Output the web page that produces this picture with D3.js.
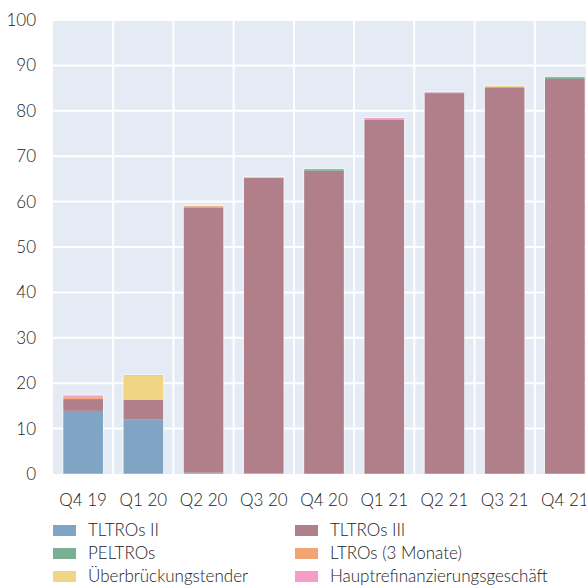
<!DOCTYPE html>
<html>
<head>
<meta charset="utf-8">
<script src="https://cdn.jsdelivr.net/npm/d3@7"></script>
<style>
  body { margin: 0; background: #fff; }
  text { font-family: Lato, "Open Sans", sans-serif; font-weight: 300; fill: #222; }
</style>
</head>
<body>
<script>
  // quarters and stacked series (share)
  var quarters = ["Q4 19", "Q1 20", "Q2 20", "Q3 20", "Q4 20", "Q1 21", "Q2 21", "Q3 21", "Q4 21"];
  var tltro2   = [13.9, 12.0, 0.3, 0.2, 0.0, 0.0, 0.0, 0.0, 0.0];
  var tltro3   = [2.6, 4.3, 58.3, 65.0, 66.8, 78.0, 83.7, 85.1, 87.0];
  var peltro   = [0.0, 0.0, 0.0, 0.0, 0.35, 0.1, 0.3, 0.1, 0.4];
  var ltro     = [0.3, 0.0, 0.4, 0.1, 0.0, 0.0, 0.0, 0.1, 0.0];
  var bridge   = [0.0, 5.4, 0.0, 0.1, 0.0, 0.0, 0.0, 0.2, 0.0];
  var mro      = [0.5, 0.1, 0.0, 0.0, 0.0, 0.3, 0.1, 0.0, 0.1];
  var yTicks   = [0, 10, 20, 30, 40, 50, 60, 70, 80, 90, 100];

  var series = [
    { key: "tltro2", name: "TLTROs II", color: "#80a5c4", values: tltro2 },
    { key: "tltro3", name: "TLTROs III", color: "#b07f89", values: tltro3 },
    { key: "peltro", name: "PELTROs", color: "#79b093", values: peltro },
    { key: "ltro", name: "LTROs (3 Monate)", color: "#f2a574", values: ltro },
    { key: "bridge", name: "Überbrückungstender", color: "#efd584", values: bridge },
    { key: "mro", name: "Hauptrefinanzierungsgeschäft", color: "#f59cc7", values: mro }
  ];

  var w = 586, h = 585;
  var margin = { top: 20, left: 53, bottom: 111 };
  var plotW = 542; // runs past the right edge, like the original crop

  var rows = quarters.map(function (q, i) {
    var r = { q: q };
    series.forEach(function (s) { r[s.key] = s.values[i]; });
    return r;
  });

  var stack = d3.stack().keys(series.map(function (s) { return s.key; }));
  var stacked = stack(rows);

  var svg = d3.select("body").append("svg")
    .attr("width", w)
    .attr("height", h);

  var x = d3.scaleBand()
    .domain(quarters)
    .range([margin.left, margin.left + plotW])
    .paddingInner(0.34)
    .paddingOuter(0.17);

  var y = d3.scaleLinear()
    .domain([0, 100])
    .range([h - margin.bottom, margin.top]);

  // background
  svg.append("rect")
    .attr("x", margin.left)
    .attr("y", margin.top)
    .attr("width", plotW)
    .attr("height", y(0) - margin.top)
    .attr("fill", "#e4ebf4");

  // horizontal grid
  svg.append("g").selectAll("line")
    .data(yTicks.slice(1))
    .enter().append("line")
    .attr("x1", margin.left).attr("x2", margin.left + plotW)
    .attr("y1", function (d) { return y(d); })
    .attr("y2", function (d) { return y(d); })
    .attr("stroke", "#fff").attr("stroke-width", 2);

  // vertical grid between quarters
  var step = x.step();
  svg.append("g").selectAll("line")
    .data(quarters.slice(1))
    .enter().append("line")
    .attr("x1", function (d) { return x(d) - (step - x.bandwidth()) / 2; })
    .attr("x2", function (d) { return x(d) - (step - x.bandwidth()) / 2; })
    .attr("y1", margin.top).attr("y2", y(0))
    .attr("stroke", "#fff").attr("stroke-width", 2);

  // bars
  var colorOf = {};
  series.forEach(function (s) { colorOf[s.key] = s.color; });

  svg.append("g").selectAll("g")
    .data(stacked)
    .enter().append("g")
    .attr("fill", function (d) { return colorOf[d.key]; })
    .selectAll("rect")
    .data(function (d) { return d; })
    .enter().append("rect")
    .attr("x", function (d) { return x(d.data.q); })
    .attr("width", x.bandwidth())
    .attr("y", function (d) { return y(d[1]); })
    .attr("height", function (d) { return Math.max(0, y(d[0]) - y(d[1])); });

  // faint light outline round each column
  svg.append("g").selectAll("rect")
    .data(rows)
    .enter().append("rect")
    .attr("x", function (d) { return x(d.q) - 0.5; })
    .attr("width", x.bandwidth() + 1)
    .attr("y", function (d) { return y(d3.sum(series, function (s) { return d[s.key]; })) - 0.5; })
    .attr("height", function (d) { return y(0) - y(d3.sum(series, function (s) { return d[s.key]; })) + 0.5; })
    .attr("fill", "none")
    .attr("stroke", "rgba(255,255,255,0.45)")
    .attr("stroke-width", 1);

  // y axis
  var yAxis = d3.axisLeft(y).tickValues(yTicks).tickSize(0).tickPadding(0);
  svg.append("g")
    .attr("transform", "translate(36,0)")
    .call(yAxis)
    .call(function (g) {
      g.select(".domain").remove();
      g.selectAll("text").attr("font-size", 17).attr("font-family", null);
    });

  // x axis
  var xAxis = d3.axisBottom(x).tickSize(0).tickPadding(0);
  svg.append("g")
    .attr("transform", "translate(0," + (y(0) + 20) + ")")
    .call(xAxis)
    .call(function (g) {
      g.select(".domain").remove();
      g.selectAll("text").attr("font-size", 17).attr("font-family", null);
    });
  svg.selectAll(".tick text").attr("fill", null);

  // legend
  var legend = svg.append("g").selectAll("g")
    .data(series)
    .enter().append("g")
    .attr("transform", function (d, i) {
      var col = i % 2, row = Math.floor(i / 2);
      return "translate(" + (col === 0 ? 53 : 295) + "," + (525 + row * 23) + ")";
    });

  legend.append("rect")
    .attr("width", 23).attr("height", 11)
    .attr("fill", function (d) { return d.color; });

  legend.append("text")
    .attr("x", 35).attr("y", 5.5)
    .attr("dy", "0.35em")
    .attr("font-size", 17)
    .text(function (d) { return d.name; });
</script>
</body>
</html>
